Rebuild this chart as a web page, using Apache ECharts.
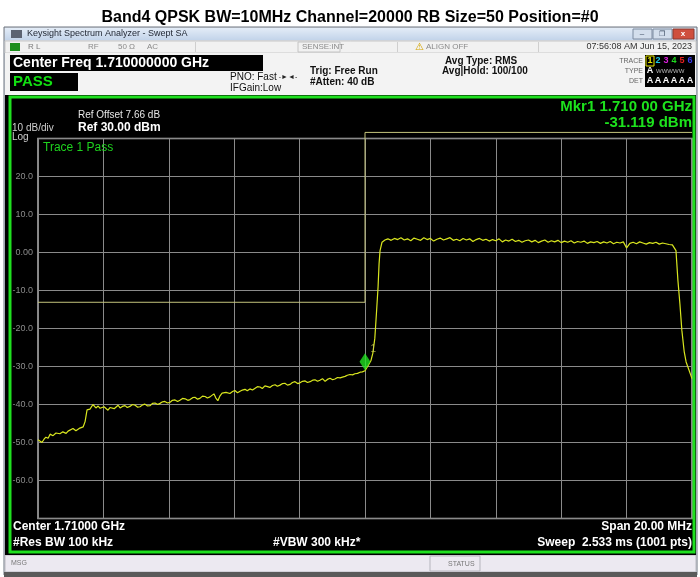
<!DOCTYPE html>
<html>
<head>
<meta charset="utf-8">
<title>Band4 QPSK spectrum</title>
<script src="https://cdn.jsdelivr.net/npm/echarts@6/dist/echarts.min.js"></script>
<style>
  html, body { margin: 0; padding: 0; background: #fff; }
  #chart { width: 700px; height: 577px; }
</style>
</head>
<body>
<div id="chart"></div>
<script>
// trace points: [frequency MHz, level dBm]
const adjacentTrace = [
  [1700.00, -49.3], [1700.06, -49.0], [1700.12, -50.0], [1700.18, -49.2], [1700.24, -48.6],
  [1700.31, -48.9], [1700.37, -47.8], [1700.46, -48.2], [1700.55, -47.5], [1700.61, -47.9],
  [1700.67, -47.7], [1700.76, -47.2], [1700.86, -47.6], [1700.92, -47.0], [1700.98, -46.9],
  [1701.07, -46.3], [1701.16, -46.9], [1701.22, -46.4], [1701.28, -46.2], [1701.38, -45.9],
  [1701.44, -44.5], [1701.50, -41.4], [1701.59, -41.2], [1701.68, -40.0], [1701.77, -40.9],
  [1701.84, -40.4], [1701.90, -41.0], [1701.96, -40.5], [1702.02, -40.6], [1702.08, -40.9],
  [1702.14, -41.5], [1702.20, -40.8], [1702.26, -40.7], [1702.33, -41.1], [1702.39, -40.6],
  [1702.45, -40.2], [1702.51, -40.9], [1702.58, -40.5], [1702.66, -40.3], [1702.73, -40.8],
  [1702.81, -40.5], [1702.89, -40.0], [1702.97, -40.2], [1703.05, -40.7], [1703.12, -40.6],
  [1703.20, -40.1], [1703.27, -39.9], [1703.35, -40.4], [1703.43, -40.3], [1703.50, -39.7],
  [1703.58, -39.6], [1703.66, -40.0], [1703.73, -39.7], [1703.81, -39.3], [1703.88, -39.2],
  [1703.96, -39.6], [1704.04, -39.4], [1704.11, -38.9], [1704.19, -38.8], [1704.27, -39.2],
  [1704.34, -38.9], [1704.42, -38.4], [1704.50, -38.5], [1704.58, -38.9], [1704.65, -38.7],
  [1704.73, -38.2], [1704.80, -38.1], [1704.88, -38.6], [1704.95, -38.4], [1705.03, -37.8],
  [1705.11, -37.9], [1705.18, -38.3], [1705.26, -38.0], [1705.32, -37.6], [1705.38, -37.2],
  [1705.44, -38.3], [1705.50, -39.0], [1705.56, -37.8], [1705.63, -37.0], [1705.69, -37.4],
  [1705.75, -36.8], [1705.81, -37.3], [1705.87, -37.1], [1705.95, -36.6], [1706.02, -36.3],
  [1706.10, -36.9], [1706.18, -36.5], [1706.25, -36.2], [1706.33, -36.0], [1706.40, -36.4],
  [1706.48, -35.9], [1706.56, -36.2], [1706.64, -35.7], [1706.71, -35.3], [1706.79, -35.4],
  [1706.86, -35.8], [1706.94, -35.1], [1707.02, -35.3], [1707.09, -35.5], [1707.17, -35.0],
  [1707.25, -34.8], [1707.32, -35.2], [1707.40, -34.9], [1707.48, -34.5], [1707.55, -34.4],
  [1707.63, -34.9], [1707.71, -34.7], [1707.78, -34.2], [1707.86, -34.0], [1707.94, -34.5],
  [1708.01, -34.3], [1708.09, -33.9], [1708.17, -33.8], [1708.24, -34.2], [1708.32, -34.0],
  [1708.40, -33.6], [1708.47, -33.5], [1708.55, -33.9], [1708.62, -33.6], [1708.70, -33.2],
  [1708.78, -33.9], [1708.85, -33.4], [1708.93, -33.1], [1709.01, -33.5], [1709.08, -33.3],
  [1709.16, -32.9], [1709.24, -33.0], [1709.31, -32.8], [1709.39, -32.6], [1709.46, -32.3],
  [1709.54, -32.1], [1709.62, -32.2], [1709.69, -31.9], [1709.77, -31.8], [1709.85, -31.5],
  [1709.92, -31.4], [1710.00, -31.12]
];
const risingEdge = [
  [1710.08, -30.0], [1710.18, -28.5], [1710.24, -26.5], [1710.30, -22.6], [1710.35, -16.0],
  [1710.40, -9.0], [1710.43, -3.0], [1710.46, 0.5], [1710.52, 2.7], [1710.61, 3.3], [1710.70, 3.6]
];
const channelTrace = [
  [1710.8, 3.2], [1710.9, 3.7], [1711.0, 3.4], [1711.1, 3.9], [1711.2, 3.3], [1711.3, 3.6],
  [1711.4, 3.1], [1711.5, 3.8], [1711.6, 3.5], [1711.7, 3.2], [1711.8, 3.9], [1711.9, 3.4],
  [1712.0, 3.7], [1712.1, 3.0], [1712.2, 3.5], [1712.3, 3.8], [1712.4, 3.3], [1712.5, 3.6],
  [1712.6, 3.9], [1712.7, 3.2], [1712.8, 3.5], [1712.9, 3.1], [1713.0, 3.7], [1713.1, 3.3],
  [1713.2, 3.6], [1713.3, 2.9], [1713.4, 3.4], [1713.5, 3.7], [1713.6, 3.2], [1713.7, 3.5],
  [1713.8, 3.0], [1713.9, 3.4], [1714.0, 3.1], [1714.1, 3.6], [1714.2, 2.8], [1714.3, 3.3],
  [1714.4, 3.0], [1714.5, 3.5], [1714.6, 2.9], [1714.7, 3.2], [1714.8, 2.7], [1714.9, 3.1],
  [1715.0, 3.3], [1715.1, 2.8], [1715.2, 3.2], [1715.3, 2.6], [1715.4, 3.0], [1715.5, 3.3],
  [1715.6, 2.7], [1715.7, 3.1], [1715.8, 2.8], [1715.9, 3.2], [1716.0, 2.6], [1716.1, 3.0],
  [1716.2, 2.7], [1716.3, 3.1], [1716.4, 2.5], [1716.5, 2.9], [1716.6, 2.7], [1716.7, 3.0],
  [1716.8, 2.4], [1716.9, 2.8], [1717.0, 2.6], [1717.1, 2.9], [1717.2, 2.4], [1717.3, 2.8],
  [1717.4, 2.5], [1717.5, 2.9], [1717.6, 2.3], [1717.7, 2.7], [1717.8, 2.5], [1717.9, 2.8],
  [1718.0, 1.2], [1718.1, 2.4], [1718.2, 2.7], [1718.3, 2.3], [1718.4, 2.8], [1718.5, 2.5],
  [1718.6, 2.2], [1718.7, 2.6], [1718.8, 2.4], [1718.9, 2.7], [1719.0, 2.2], [1719.1, 2.5],
  [1719.2, 2.3], [1719.3, 2.1], [1719.4, 2.0]
];
const fallingEdge = [
  [1719.51, 0.5], [1719.57, -7.4], [1719.63, -13.5], [1719.69, -20.5], [1719.76, -26.0],
  [1719.82, -28.8], [1719.91, -31.0], [1720.00, -33.2]
];

// limit line (yellow step) and marker 1
const limitFreq = [1700, 1710, 1710, 1720];
const limitDbm = [-13.1, -13.1, 31.6, 31.6];
const markerFreq = 1710.0;
const markerDbm = -31.119;

const freqMin = 1700, freqMax = 1720, freqStep = 2;
const refLevel = 30, bottomLevel = -70, dbPerDiv = 10;

// trace selector colours in the header (traces 1..6)
const traceColors = ["#e6e600", "#18c8e8", "#e01ee0", "#1ed81e", "#e82020", "#3a3ae8"];

const traceData = adjacentTrace.concat(risingEdge, channelTrace, fallingEdge);
const limitData = limitFreq.map((f, i) => [f, limitDbm[i]]);

const FONT = "'Liberation Sans', Arial, sans-serif";

// helpers for the analyzer chrome
function box(x, y, w, h, fill, stroke, z) {
  return {
    type: "rect", silent: true, z: z === undefined ? -5 : z,
    shape: { x: x, y: y, width: w, height: h },
    style: { fill: fill || "none", stroke: stroke || null, lineWidth: 1 }
  };
}
function txt(x, y, s, size, color, opt) {
  opt = opt || {};
  return {
    type: "text", silent: true, z: 20, x: x, y: y,
    style: {
      text: s, fill: color,
      font: (opt.bold ? "bold " : "") + size + "px " + FONT,
      align: opt.align || "left", verticalAlign: "middle"
    }
  };
}

const chrome = [
  // window frame
  box(4, 27, 693, 548, "#d8dce3", "#6d7480", -9),
  {
    type: "rect", silent: true, z: -8,
    shape: { x: 5, y: 28, width: 691, height: 12 },
    style: {
      fill: new echarts.graphic.LinearGradient(0, 0, 0, 1, [
        { offset: 0, color: "#e3ecf7" }, { offset: 1, color: "#c3d4ea" }
      ])
    }
  },
  box(11, 30, 11, 8, "#5c6372", null, -7),
  txt(27, 34, "Keysight Spectrum Analyzer - Swept SA", 9, "#1e2430"),
  box(633, 29, 19, 10, "#d3deec", "#7d8ba0", -7),
  box(653, 29, 19, 10, "#d3deec", "#7d8ba0", -7),
  box(673, 29, 21, 10, "#cf4f3e", "#8a3a30", -7),
  txt(642, 34, "–", 8, "#3a4a60", { align: "center" }),
  txt(662, 34, "❐", 7, "#3a4a60", { align: "center" }),
  txt(683, 34, "x", 8, "#ffffff", { align: "center", bold: true }),

  // status row
  box(5, 41, 691, 12, "#f1f1f1", "#c8c8c8", -8),
  box(10, 43, 10, 8, "#1d8f1d", null, -7),
  txt(28, 47, "R L", 8, "#7a7a7a"),
  txt(88, 47, "RF", 8, "#8a8a8a"),
  txt(118, 47, "50 Ω", 8, "#8a8a8a"),
  txt(147, 47, "AC", 8, "#8a8a8a"),
  box(195, 42, 1, 10, "#cfcfcf", null, -7),
  box(298, 42, 42, 10, "none", "#c4c4c4", -7),
  txt(302, 47, "SENSE:INT", 8, "#8a8a8a"),
  box(397, 42, 1, 10, "#cfcfcf", null, -7),
  txt(419, 47, "⚠", 10, "#d4a400", { align: "center" }),
  txt(426, 47, "ALIGN OFF", 8, "#8a8a8a"),
  box(538, 42, 1, 10, "#cfcfcf", null, -7),
  txt(692, 47, "07:56:08 AM Jun 15, 2023", 9, "#333333", { align: "right" }),

  // header with settings
  box(5, 53, 691, 43, "#f3f3f3", null, -8),
  box(10, 55, 253, 16, "#000000", null, -7),
  txt(13, 63, "Center Freq 1.710000000 GHz", 14, "#ffffff", { bold: true }),
  box(10, 73, 68, 18, "#000000", null, -7),
  txt(13, 82, "PASS", 15, "#12e012", { bold: true }),
  txt(230, 77, "PNO: Fast", 10, "#111111"),
  txt(230, 88, "IFGain:Low", 10, "#111111"),
  txt(288, 77, "-►◄-", 7, "#222222", { align: "center" }),
  txt(310, 71, "Trig: Free Run", 10, "#111111", { bold: true }),
  txt(310, 82, "#Atten: 40 dB", 10, "#111111", { bold: true }),
  txt(445, 61, "Avg Type: RMS", 10, "#111111", { bold: true }),
  txt(442, 71, "Avg|Hold: 100/100", 10, "#111111", { bold: true }),
  txt(643, 61, "TRACE", 7, "#666666", { align: "right" }),
  txt(643, 71, "TYPE", 7, "#666666", { align: "right" }),
  txt(643, 81, "DET", 7, "#666666", { align: "right" }),
  box(645, 55, 50, 32, "#000000", null, -7),
  box(646, 56, 8, 10, "none", "#e6e600", -6),
  txt(650, 71, "A", 9, "#ffffff", { bold: true, align: "center" }),
  txt(656, 71, "WWWWW", 6, "#bbbbbb")
];

// trace numbers and detector letters, one per column
traceColors.forEach((c, i) => {
  chrome.push(txt(650 + i * 8, 61, String(i + 1), 9, c, { bold: true, align: "center" }));
  chrome.push(txt(650 + i * 8, 81, "A", 9, "#ffffff", { bold: true, align: "center" }));
});

chrome.push(
  // display area
  box(5, 95, 691, 460, "#000000", null, -6),
  {
    type: "rect", silent: true, z: 15,
    shape: { x: 10, y: 97, width: 684, height: 455 },
    style: { fill: "none", stroke: "#1fe01f", lineWidth: 3 }
  },
  txt(78, 115, "Ref Offset 7.66 dB", 10, "#e6e6e6"),
  txt(78, 128, "Ref 30.00 dBm", 12, "#ffffff", { bold: true }),
  txt(12, 128, "10 dB/div", 10, "#cfcfcf"),
  txt(12, 137, "Log", 10, "#cfcfcf"),
  txt(692, 107, "Mkr1 1.710 00 GHz", 15, "#1de21d", { bold: true, align: "right" }),
  txt(692, 123, "-31.119 dBm", 15, "#1de21d", { bold: true, align: "right" }),
  txt(43, 148, "Trace 1 Pass", 12, "#1ed21e"),
  txt(13, 527, "Center 1.71000 GHz", 12, "#ffffff", { bold: true }),
  txt(13, 543, "#Res BW 100 kHz", 12, "#ffffff", { bold: true }),
  txt(273, 543, "#VBW 300 kHz*", 12, "#ffffff", { bold: true }),
  txt(692, 527, "Span 20.00 MHz", 12, "#ffffff", { bold: true, align: "right" }),
  txt(692, 543, "Sweep  2.533 ms (1001 pts)", 12, "#ffffff", { bold: true, align: "right" }),

  // message bar
  box(5, 555, 691, 17, "#ece9f1", "#b9b9c0", -8),
  txt(11, 563, "MSG", 7, "#777777"),
  box(430, 556, 50, 15, "none", "#b5b5bd", -7),
  txt(448, 564, "STATUS", 7, "#777777"),
  box(4, 572, 693, 5, "#5a5a5a", null, -7)
);

const myChart = echarts.init(document.getElementById("chart"), null, { renderer: "canvas" });
myChart.setOption({
  backgroundColor: "#ffffff",
  animation: false,
  title: {
    text: "Band4 QPSK BW=10MHz Channel=20000 RB Size=50 Position=#0",
    left: "center",
    top: 5,
    textStyle: { fontFamily: FONT, fontSize: 16, fontWeight: "bold", color: "#000000" }
  },
  grid: {
    left: 38,
    top: 138.5,
    width: 654,
    height: 380,
    show: true,
    borderColor: "#b4b4b4",
    borderWidth: 1.5,
    backgroundColor: "transparent"
  },
  xAxis: {
    type: "value",
    min: freqMin,
    max: freqMax,
    interval: freqStep,
    axisLine: { show: false },
    axisTick: { show: false },
    axisLabel: { show: false },
    splitLine: { show: true, lineStyle: { color: "#8a8a8a", width: 1 } }
  },
  yAxis: {
    type: "value",
    min: bottomLevel,
    max: refLevel,
    interval: dbPerDiv,
    axisLine: { show: false },
    axisTick: { show: false },
    axisLabel: {
      margin: 5,
      fontFamily: FONT,
      fontSize: 9,
      color: "#8c8c8c",
      // analyzer shows 0 as "0.00", top and bottom lines unlabeled
      formatter: function (v) {
        if (v === refLevel || v === bottomLevel) return "";
        if (v === 0) return "0.00";
        return v.toFixed(1);
      }
    },
    splitLine: { show: true, lineStyle: { color: "#8a8a8a", width: 1 } }
  },
  graphic: chrome,
  series: [
    {
      name: "limit",
      type: "line",
      data: limitData,
      clip: false,
      symbol: "none",
      silent: true,
      z: 3,
      lineStyle: { color: "#c4c47c", width: 1 }
    },
    {
      name: "Trace 1",
      type: "line",
      data: traceData,
      symbol: "none",
      z: 4,
      lineStyle: { color: "#d9e61f", width: 1.2 }
    },
    {
      name: "Mkr1",
      type: "scatter",
      data: [[markerFreq, markerDbm]],
      symbol: "diamond",
      symbolSize: [11, 17],
      symbolOffset: [0, -9],
      z: 6,
      itemStyle: { color: "#20e020" },
      label: {
        show: true,
        formatter: "1",
        position: "right",
        distance: 0,
        offset: [0, -13],
        color: "#c8cc50",
        fontFamily: FONT,
        fontSize: 10
      }
    }
  ]
});
</script>
</body>
</html>
